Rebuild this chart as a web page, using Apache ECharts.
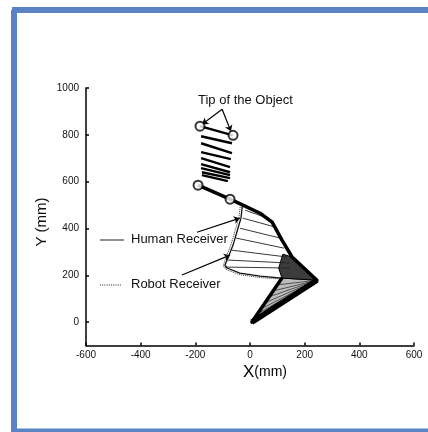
<!DOCTYPE html>
<html><head><meta charset="utf-8">
<script src="https://cdn.jsdelivr.net/npm/echarts@6/dist/echarts.min.js"></script>
<style>html,body{margin:0;padding:0;background:#fff}#c{width:428px;height:432px}</style>
</head><body><div id="c"></div>
<script>
const xTicks = [-600, -400, -200, 0, 200, 400, 600];
const yTicks = [0, 200, 400, 600, 800, 1000];
const tipCircles = [[-183, 837], [-62, 798], [-190, 585], [-73, 525]];
const objectStripes = [
  [[-183, 837], [-62, 798]],
  [[-179, 794], [-66, 764]],
  [[-179, 764], [-66, 722]],
  [[-179, 726], [-70, 696]],
  [[-179, 700], [-73, 662]],
  [[-179, 675], [-73, 640]],
  [[-179, 658], [-73, 628]],
  [[-176, 640], [-73, 615]],
  [[-176, 628], [-81, 602]]
];
const thickPath = [[-190, 585], [-73, 525], [-26, 500], [37, 465], [81, 427], [117, 350], [154, 278], [245, 179], [7, 0], [117, 188]];
const heavyEdge = [[245, 179], [7, 0]];
const humanPath = [[-28, 497], [-33, 444], [-44, 401], [-62, 329], [-81, 273], [-92, 243], [-84, 231], [-37, 209], [37, 196], [117, 188]];
const robotPath = [[-36, 492], [-41, 444], [-52, 401], [-70, 329], [-89, 273], [-98, 240], [-88, 225], [-40, 203], [37, 190], [117, 184]];
const fanLines = [
  [[-18, 478], [55, 448]],
  [[-26, 444], [92, 406]],
  [[-37, 401], [110, 359]],
  [[-51, 359], [124, 316]],
  [[-66, 307], [135, 278]],
  [[-81, 265], [146, 252]],
  [[-92, 235], [146, 231]]
];
const darkPatch = [[120, 290], [154, 278], [245, 179], [117, 188], [105, 230]];
const lightPatch = [[117, 188], [245, 179], [7, 0]];
const hatchLines = [
  [[245, 179], [100, 159]], [[245, 179], [85, 133]], [[245, 179], [70, 108]],
  [[245, 179], [55, 82]], [[245, 179], [40, 56]], [[245, 179], [28, 36]]
];
const arrows = [
  [[-102, 909], [-175, 845]],
  [[-102, 909], [-70, 815]],
  [[-194, 384], [-37, 444]],
  [[-249, 201], [-73, 286]]
];

const chart = echarts.init(document.getElementById('c'));
const font = 'Liberation Sans, Arial, sans-serif';
function polySeries(pts, fill, stroke) {
  return {
    type: 'custom', silent: true, z: 2,
    data: [[pts[0][0], pts[0][1]]],
    renderItem: function (params, api) {
      return { type: 'polygon', shape: { points: pts.map(p => api.coord(p)) },
        style: { fill: fill, stroke: stroke, lineWidth: 1 } };
    }
  };
}
function linesSeries(data, width, color, extra) {
  return Object.assign({
    type: 'lines', coordinateSystem: 'cartesian2d', silent: true, z: 3,
    lineStyle: { color: color, width: width, opacity: 1 },
    data: data.map(c => ({ coords: c }))
  }, extra || {});
}
chart.setOption({
  animation: false,
  backgroundColor: '#fff',
  grid: { left: 86, right: 14, top: 88, bottom: 86.5, containLabel: false },
  xAxis: {
    type: 'value', min: -600, max: 600, interval: 200,
    splitLine: { show: false },
    axisLine: { onZero: false, lineStyle: { color: '#000', width: 1.5 } },
    axisTick: { inside: true, length: 3, lineStyle: { color: '#000', width: 1.5 } },
    axisLabel: { color: '#111', fontSize: 10, fontFamily: font, margin: 5, formatter: v => String(v) }
  },
  yAxis: {
    type: 'value', min: -100, max: 1000,
    splitLine: { show: false },
    axisLine: { onZero: false, lineStyle: { color: '#000', width: 1.5 } },
    axisTick: { inside: true, length: 3, customValues: yTicks, lineStyle: { color: '#000', width: 1.5 } },
    axisLabel: { color: '#111', fontSize: 10, fontFamily: font, margin: 7, customValues: yTicks, formatter: v => String(v) }
  },
  series: [
    polySeries(lightPatch, '#bdbdbd', '#000'),
    polySeries(darkPatch, '#3c3c3c', '#000'),
    linesSeries(hatchLines, 0.8, '#333'),
    linesSeries(fanLines, 0.9, '#222'),
    linesSeries(objectStripes, 2.4, '#000'),
    linesSeries(arrows, 1.2, '#000', { symbol: ['none', 'arrow'], symbolSize: 6 }),
    { type: 'line', data: robotPath, showSymbol: false, silent: true, z: 3,
      lineStyle: { color: '#333', width: 1, type: 'dotted' } },
    { type: 'line', data: humanPath, showSymbol: false, silent: true, z: 3,
      lineStyle: { color: '#111', width: 1.3 } },
    { type: 'line', data: thickPath, showSymbol: false, silent: true, z: 4,
      lineStyle: { color: '#000', width: 3.5, join: 'round' } },
    { type: 'line', data: heavyEdge, showSymbol: false, silent: true, z: 4,
      lineStyle: { color: '#000', width: 5.5 } },
    { type: 'scatter', data: tipCircles, symbol: 'emptyCircle', symbolSize: 9, silent: true, z: 5,
      itemStyle: { color: '#000', borderWidth: 1.6 } }
  ],
  graphic: [
    { type: 'rect', shape: { x: 12, y: 7, width: 416, height: 6 }, style: { fill: '#5b84c4' } },
    { type: 'rect', shape: { x: 11, y: 10, width: 6, height: 422 }, style: { fill: '#5b84c4' } },
    { type: 'rect', shape: { x: 11, y: 428.5, width: 417, height: 4 }, style: { fill: '#5b84c4' } },
    { type: 'text', left: 198, top: 94, style: { text: 'Tip of the Object', font: '13px ' + font, fill: '#111' } },
    { type: 'line', shape: { x1: 100, y1: 240, x2: 124, y2: 240 }, style: { stroke: '#222', lineWidth: 1 } },
    { type: 'text', left: 131, top: 233, style: { text: 'Human Receiver', font: '13px ' + font, fill: '#111' } },
    { type: 'line', shape: { x1: 100, y1: 285, x2: 121, y2: 285 }, style: { stroke: '#222', lineWidth: 1.2, lineDash: [1, 1.2] } },
    { type: 'text', left: 131, top: 278, style: { text: 'Robot Receiver', font: '13px ' + font, fill: '#111' } },
    { type: 'text', x: 42, y: 222, rotation: Math.PI / 2,
      style: { text: 'Y (mm)', font: '15px ' + font, fill: '#111', align: 'center', verticalAlign: 'middle' } },
    { type: 'text', x: 265, y: 372,
      style: { text: '{a|X}{b|(mm)}', align: 'center', verticalAlign: 'middle',
        rich: { a: { fontSize: 17, fontFamily: font, color: '#111' },
                b: { fontSize: 14, fontFamily: font, color: '#111' } } } }
  ]
});
</script></body></html>
